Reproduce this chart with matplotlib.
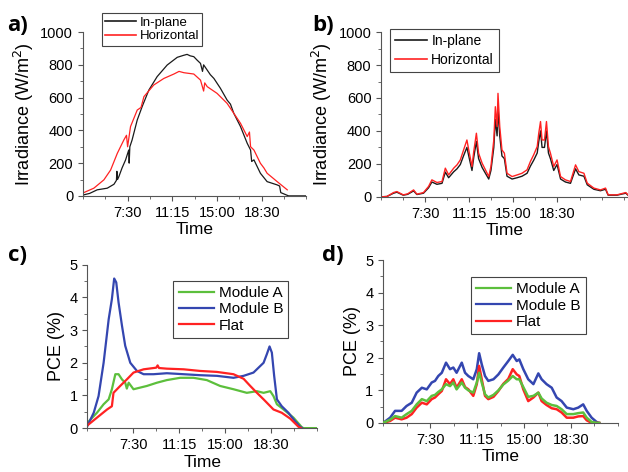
import numpy as np
import matplotlib.pyplot as plt
from matplotlib.ticker import MultipleLocator

plt.rcParams['font.family'] = ['Liberation Sans', 'DejaVu Sans']

# x positions are in axis tick units (0..10), labelled with clock times
tick_pos = [2, 4, 6, 8]
tick_lab = ['7:30', '11:15', '15:00', '18:30']

# a) sunny day irradiance
a_inplane_x = [0, 0.3, 0.64, 1.09, 1.39, 1.5, 1.52, 1.55, 1.61, 1.75, 1.91, 2.05, 2.07, 2.1, 2.2,
               2.43, 2.65, 2.95, 3.32, 3.77, 4.22, 4.5, 4.66, 4.8, 4.96, 5.1, 5.26, 5.35, 5.4, 5.56,
               5.7, 5.86, 6.15, 6.45, 6.6, 6.75, 7.05, 7.35, 7.5, 7.55, 7.65, 7.94, 8.24, 8.69,
               8.8, 8.85, 9.2, 10]
a_inplane_y = [5, 15, 37, 47, 71, 95, 150, 100, 118, 170, 220, 280, 200, 300, 341,
               463, 545, 646, 728, 799, 846, 858, 864, 855, 850, 830, 809, 760, 800, 768,
               740, 717, 657, 585, 560, 504, 423, 321, 280, 210, 220, 138, 87, 67,
               60, 20, 0, 0]
a_horiz_x = [0.04, 0.49, 0.94, 1.24, 1.54, 1.83, 1.95, 2.0, 2.13, 2.43, 2.6, 2.73, 3.17, 3.62,
             4.07, 4.3, 4.52, 4.96, 5.26, 5.4, 5.45, 5.56, 6.0, 6.45, 6.75, 7.05, 7.35, 7.45,
             7.5, 7.65, 7.94, 8.1, 8.24, 8.4, 8.69, 9.14]
a_horiz_y = [20, 47, 98, 158, 260, 341, 370, 300, 423, 524, 540, 606, 677, 717,
             744, 760, 752, 744, 707, 640, 690, 667, 626, 565, 504, 443, 362, 390,
             300, 280, 199, 170, 138, 120, 87, 37]

# b) cloudy day irradiance
b_x = [0, 0.26, 0.56, 0.71, 1.0, 1.2, 1.47, 1.62, 1.92, 2.15, 2.3, 2.53, 2.76, 2.91, 3.06, 3.29,
       3.44, 3.59, 3.74, 3.89, 4.0, 4.12, 4.2, 4.32, 4.42, 4.58, 4.73, 4.88, 4.98, 5.11, 5.18,
       5.26, 5.3, 5.38, 5.48, 5.59, 5.71, 5.94, 6.17, 6.39, 6.62, 6.77, 6.92, 7.08, 7.15, 7.23,
       7.3, 7.41, 7.5, 7.59, 7.68, 7.83, 7.98, 8.14, 8.36, 8.59, 8.82, 8.97, 9.2, 9.35, 9.65,
       9.95, 10.18, 10.3, 10.7, 11.1, 11.2]
b_horiz = [0, 2, 26, 32, 12, 18, 42, 16, 26, 63, 103, 87, 93, 174, 133, 174,
           194, 224, 285, 345, 265, 184, 275, 386, 265, 204, 164, 123, 184, 345, 547,
           426, 628, 426, 285, 265, 143, 123, 133, 143, 164, 214, 255, 305, 386, 457,
           345, 345, 457, 305, 265, 184, 224, 123, 103, 93, 194, 153, 143, 83, 53,
           42, 53, 12, 12, 26, 12]
b_inplane = [0, 2, 22, 28, 10, 15, 36, 14, 22, 55, 90, 76, 82, 150, 116, 152,
             170, 196, 250, 300, 232, 160, 240, 336, 232, 178, 143, 108, 160, 300, 470,
             370, 540, 370, 248, 232, 125, 108, 116, 125, 143, 186, 222, 266, 336, 400,
             300, 300, 400, 266, 232, 160, 196, 108, 90, 82, 170, 133, 125, 73, 46,
             37, 46, 10, 10, 22, 10]

# c) sunny day PCE
c_modB_x = [0, 0.28, 0.49, 0.71, 0.93, 1.07, 1.17, 1.26, 1.36, 1.51, 1.65, 1.87, 2.16, 2.45,
            2.88, 3.46, 4.19, 4.91, 5.64, 6.36, 6.8, 7.23, 7.45, 7.67, 7.81, 7.93, 8.03, 8.13,
            8.25, 8.46, 8.75, 9.04, 9.26, 9.35]
c_modB_y = [0.06, 0.47, 0.98, 2.0, 3.33, 3.95, 4.58, 4.46, 3.85, 3.13, 2.52, 2.0, 1.75, 1.65,
            1.65, 1.68, 1.65, 1.62, 1.6, 1.54, 1.6, 1.7, 1.85, 2.0, 2.26, 2.5, 2.31, 1.6,
            0.88, 0.67, 0.47, 0.21, 0.04, 0]
c_modA_x = [0, 0.42, 0.71, 0.93, 1.07, 1.22, 1.36, 1.51, 1.65, 1.72, 1.8, 2.01, 2.3, 2.59, 3.03,
            3.46, 4.04, 4.62, 5.2, 5.78, 6.36, 6.94, 7.38, 7.67, 7.96, 8.1, 8.25, 8.54, 8.97,
            9.33, 9.4, 10.1]
c_modA_y = [0.16, 0.47, 0.73, 0.88, 1.19, 1.65, 1.65, 1.49, 1.39, 1.21, 1.39, 1.19, 1.24, 1.29,
            1.39, 1.47, 1.54, 1.54, 1.47, 1.29, 1.19, 1.08, 1.13, 1.08, 1.13, 0.98, 0.73,
            0.57, 0.32, 0.03, 0, 0]
c_flat_x = [0, 0.42, 0.86, 1.07, 1.14, 1.43, 1.72, 2.01, 2.45, 3.0, 3.06, 3.12, 3.46, 4.19, 4.91,
            5.64, 6.36, 6.8, 7.09, 7.38, 7.67, 8.1, 8.46, 8.83, 9.19, 9.3]
c_flat_y = [0.08, 0.32, 0.57, 0.67, 1.08, 1.29, 1.49, 1.7, 1.8, 1.85, 1.92, 1.84, 1.82, 1.8, 1.75,
            1.72, 1.65, 1.51, 1.29, 1.08, 0.88, 0.57, 0.47, 0.29, 0.04, 0]

# d) cloudy day PCE
d_x = [0, 0.3, 0.51, 0.79, 1.0, 1.22, 1.43, 1.65, 1.86, 2.07, 2.21, 2.35, 2.5, 2.68, 2.85, 2.99,
       3.13, 3.35, 3.49, 3.63, 3.84, 3.99, 4.09, 4.2, 4.34, 4.48, 4.7, 4.91, 5.12, 5.33, 5.52,
       5.69, 5.8, 5.97, 6.18, 6.4, 6.61, 6.75, 6.96, 7.18, 7.39, 7.6, 7.82, 8.1, 8.31, 8.52,
       8.67, 8.88, 9.09, 9.2]
d_modB = [0, 0.16, 0.37, 0.37, 0.52, 0.62, 0.93, 1.08, 1.03, 1.24, 1.29, 1.44, 1.54, 1.85, 1.65,
          1.7, 1.54, 1.85, 1.54, 1.44, 1.34, 1.65, 2.14, 1.8, 1.44, 1.29, 1.34, 1.49, 1.7, 1.9,
          2.09, 1.9, 1.95, 1.65, 1.34, 1.19, 1.52, 1.34, 1.19, 1.08, 0.78, 0.67, 0.47, 0.42,
          0.47, 0.57, 0.37, 0.16, 0.03, 0]
d_modA = [0, 0.1, 0.21, 0.16, 0.27, 0.37, 0.57, 0.73, 0.67, 0.83, 0.86, 0.95, 1.03, 1.19, 1.13,
          1.24, 1.03, 1.24, 1.08, 1.0, 0.93, 1.24, 1.54, 1.24, 0.88, 0.78, 0.86, 1.0, 1.18, 1.3,
          1.44, 1.34, 1.34, 1.1, 0.8, 0.83, 0.93, 0.75, 0.62, 0.55, 0.52, 0.42, 0.27, 0.27,
          0.3, 0.32, 0.16, 0.03, 0, 0]
d_flat = [0, 0.06, 0.16, 0.11, 0.16, 0.27, 0.47, 0.62, 0.57, 0.73, 0.78, 0.88, 0.98, 1.34, 1.19,
          1.34, 1.08, 1.34, 1.1, 1.03, 0.83, 1.19, 1.75, 1.34, 0.83, 0.73, 0.8, 0.98, 1.2, 1.35,
          1.65, 1.49, 1.44, 1.03, 0.67, 0.78, 0.93, 0.67, 0.55, 0.45, 0.42, 0.32, 0.16, 0.16,
          0.2, 0.21, 0.08, 0, 0, 0]

BLACK = '#1a1a1a'
RED = '#ff2222'
GREEN = '#5cbf3c'
BLUE = '#3446b0'

fig = plt.figure(figsize=(6.28, 4.72), dpi=100)
axa = fig.add_axes([0.132, 0.585, 0.356, 0.347])
axb = fig.add_axes([0.607, 0.583, 0.393, 0.349])
axc = fig.add_axes([0.139, 0.093, 0.366, 0.346])
axd = fig.add_axes([0.610, 0.104, 0.374, 0.345])


def style(ax, xmax, ymax, ymaj, ymin, ylabel, labsize):
    ax.set_xlim(0, xmax)
    ax.set_ylim(0, ymax)
    for s in ['top', 'right']:
        ax.spines[s].set_visible(False)
    for s in ['left', 'bottom']:
        ax.spines[s].set_color('#555555')
        ax.spines[s].set_linewidth(0.8)
    ax.set_xticks(tick_pos)
    ax.set_xticklabels(tick_lab)
    ax.xaxis.set_minor_locator(MultipleLocator(1))
    ax.yaxis.set_major_locator(MultipleLocator(ymaj))
    ax.yaxis.set_minor_locator(MultipleLocator(ymin))
    ax.tick_params(which='both', direction='out', color='#555555', labelsize=10.5)
    ax.tick_params(which='major', length=3.5)
    ax.tick_params(which='minor', length=2)
    ax.set_xlabel('Time', fontsize=12.5, labelpad=2)
    ax.set_ylabel(ylabel, fontsize=labsize, labelpad=3)


style(axa, 10, 1000, 200, 100, 'Irradiance (W/m$^2$)', 13)
style(axb, 11.2, 1000, 200, 100, 'Irradiance (W/m$^2$)', 13)
style(axc, 10, 5, 1, 0.5, 'PCE (%)', 13)
style(axd, 10, 5, 1, 0.5, 'PCE (%)', 13)

axa.plot(a_inplane_x, a_inplane_y, color=BLACK, lw=0.9, label='In-plane')
axa.plot(a_horiz_x, a_horiz_y, color=RED, lw=0.9, label='Horizontal')
axb.plot(b_x, b_inplane, color=BLACK, lw=1.0, label='In-plane')
axb.plot(b_x, b_horiz, color=RED, lw=1.0, label='Horizontal')

axc.plot(c_modA_x, c_modA_y, color=GREEN, lw=1.6, label='Module A')
axc.plot(c_modB_x, c_modB_y, color=BLUE, lw=1.6, label='Module B')
axc.plot(c_flat_x, c_flat_y, color=RED, lw=1.6, label='Flat')
axd.plot(d_x, d_modA, color=GREEN, lw=1.8, label='Module A', zorder=3)
axd.plot(d_x, d_modB, color=BLUE, lw=1.8, label='Module B')
axd.plot(d_x, d_flat, color=RED, lw=1.8, label='Flat')

leg_kw = dict(fancybox=False, edgecolor='#444444', framealpha=1,
              handletextpad=0.3, borderaxespad=0)
legends = [(axa, (0.085, 1.115), 9.5, 2.3, 0.1, 0.25),
           (axb, (0.037, 1.018), 10, 2.3, 0.35, 0.35),
           (axc, (0.375, 0.902), 11, 2.3, 0.15, 0.35),
           (axd, (0.374, 0.896), 11, 2.3, 0.15, 0.35)]
for ax, anchor, fs, hl, ls, bp in legends:
    leg = ax.legend(loc='upper left', bbox_to_anchor=anchor, fontsize=fs,
                    handlelength=hl, labelspacing=ls, borderpad=bp, **leg_kw)
    leg.get_frame().set_linewidth(0.8)
    for h in leg.get_lines():
        h.set_linewidth(1.6 if ax in (axc, axd) else 1.2)

for lab, (x, y) in [('a)', (0.012, 0.935)), ('b)', (0.497, 0.935)),
                    ('c)', (0.012, 0.448)), ('d)', (0.512, 0.448))]:
    fig.text(x, y, lab, fontsize=16, fontweight='bold', family=['Open Sans', 'DejaVu Sans'])

fig.savefig('out.png', dpi=100)
